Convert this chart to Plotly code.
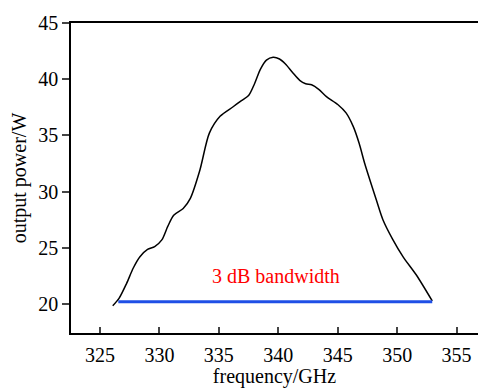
import plotly.graph_objects as go

freq = [326.07, 326.6, 327.24, 327.8, 328.36, 329.0, 329.6, 330.2, 330.7, 331.2, 332.0, 332.6,
        333.4, 334.2, 335.1, 336.2, 336.9, 337.5, 338.0, 338.5, 339.0, 339.56, 340.1, 340.6,
        341.2, 341.8, 342.3, 342.8, 343.4, 344.05, 345.0, 345.7, 346.3, 346.8, 347.27, 348.25,
        348.8, 349.6, 350.5, 351.6, 352.95]
power = [19.85, 20.5, 21.84, 23.2, 24.2, 24.85, 25.1, 25.7, 26.9, 27.9, 28.5, 29.4,
         31.9, 35.2, 36.7, 37.55, 38.1, 38.55, 39.6, 40.9, 41.7, 41.95, 41.8, 41.35,
         40.6, 39.9, 39.6, 39.5, 39.1, 38.45, 37.75, 37.0, 35.8, 34.3, 32.5, 29.25,
         27.5, 25.8, 24.2, 22.6, 20.27]

band_freq = [326.54, 352.95]
band_power = [20.2, 20.2]

x_ticks = [325, 330, 335, 340, 345, 350, 355]
y_ticks = [20, 25, 30, 35, 40, 45]

font = "Times New Roman, Liberation Serif, DejaVu Serif, serif"

fig = go.Figure()
fig.add_trace(go.Scatter(x=freq, y=power, mode="lines",
                         line=dict(color="black", width=1.5, shape="spline", smoothing=0.8),
                         showlegend=False, hoverinfo="skip"))
fig.add_trace(go.Scatter(x=band_freq, y=band_power, mode="lines",
                         line=dict(color="#1f4fe6", width=3),
                         showlegend=False, hoverinfo="skip"))
fig.add_annotation(x=339.8, y=22.5, text="3 dB bandwidth", showarrow=False,
                   font=dict(family=font, size=20, color="red"))

fig.update_layout(
    width=478, height=388,
    margin=dict(l=71, r=0, t=23, b=55),
    paper_bgcolor="white", plot_bgcolor="white",
    font=dict(family=font, size=20, color="black"),
    xaxis=dict(range=[322.56, 356.8], tickvals=x_ticks, ticks="inside", ticklen=6,
               tickwidth=1.5, showline=True, linecolor="black", linewidth=1.5, mirror=True,
               showgrid=False, zeroline=False, tickfont=dict(family=font, size=20),
               ticklabelstandoff=3,
               title=dict(text="frequency/GHz", standoff=6, font=dict(family=font, size=20))),
    yaxis=dict(range=[17.42, 45], tickvals=y_ticks, ticks="outside", ticklen=7,
               tickwidth=1.5, showline=True, linecolor="black", linewidth=1.5,
               showgrid=False, zeroline=False, tickfont=dict(family=font, size=20),
               title=dict(text="output power/W", standoff=6, font=dict(family=font, size=20))),
)

fig.write_html("out.html")
